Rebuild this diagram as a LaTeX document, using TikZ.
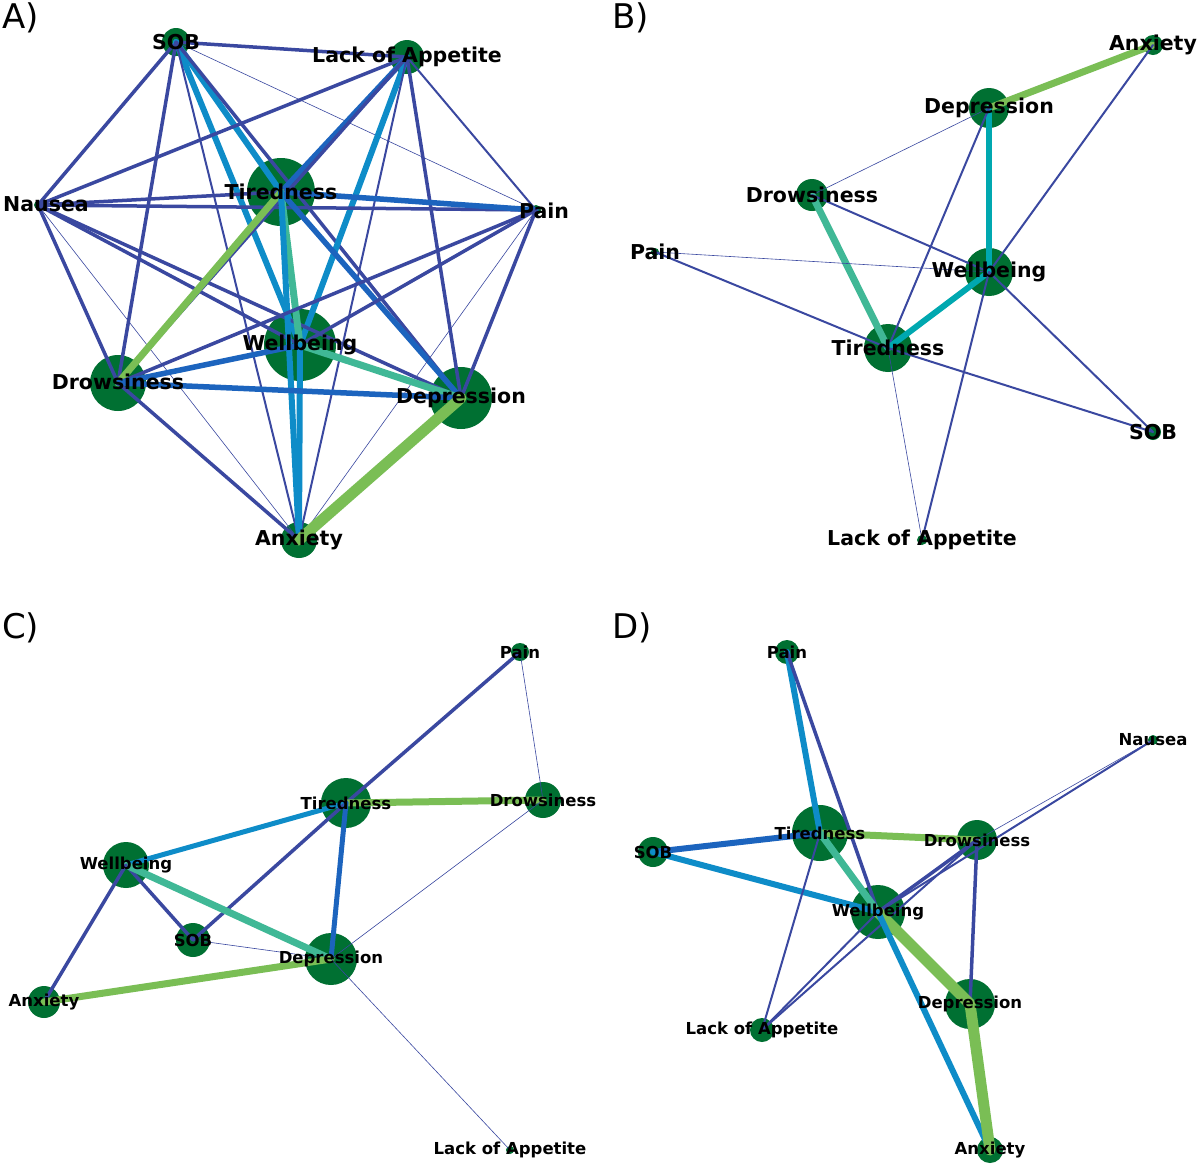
\documentclass[tikz,border=0pt]{standalone}
\usepackage{fontspec}
\setmainfont{DejaVu Sans}
\begin{document}
\begin{tikzpicture}[x=1pt,y=-1pt,line cap=round]
\definecolor{dkb}{RGB}{58,72,160}
\definecolor{blu}{RGB}{28,100,190}
\definecolor{lbl}{RGB}{14,140,200}
\definecolor{tea}{RGB}{64,184,150}
\definecolor{cya}{RGB}{0,168,176}
\definecolor{grn}{RGB}{122,190,85}
\definecolor{ndg}{RGB}{0,112,50}
\tikzset{
 t0/.style={draw=dkb,line width=0.6},
 t1/.style={draw=dkb,line width=2},
 t2/.style={draw=dkb,line width=3.5},
 bl/.style={draw=blu,line width=5.5},
 lb/.style={draw=lbl,line width=6},
 te/.style={draw=tea,line width=7},
 cy/.style={draw=cya,line width=6},
 gr/.style={draw=grn,line width=7},
 gg/.style={draw=grn,line width=11},
 lab/.style={font=\bfseries\fontsize{20.5}{20.5}\selectfont,text=black,inner sep=0},
 labs/.style={font=\bfseries\fontsize{16.5}{16.5}\selectfont,text=black,inner sep=0},
 pan/.style={font=\fontsize{34}{34}\selectfont,anchor=north west,inner sep=0}
}
\useasboundingbox (0,0) rectangle (1200,1171);
\fill[white] (0,0) rectangle (1200,1171);
\node[pan] (pA) at (2,2) {A)};
\node[pan] (pB) at (612,2) {B)};
\node[pan] (pC) at (2,612) {C)};
\node[pan] (pD) at (612,612) {D)};
% ---------- A
\foreach \n/\x/\y/\r in {Asob/176/42/14,Alac/407/57/17,Anau/38/205/4,Atir/281/192/34,Apai/536/210/5,Awel/300/345/36,Adro/118/383/28,Adep/461/398/31,Aanx/299/540/18}{
 \coordinate (\n) at (\x,\y); \fill[ndg] (\n) circle (\r);}
\draw[t2] (Asob)--(Alac); \draw[t2] (Asob)--(Anau); \draw[t0] (Asob)--(Apai);
\draw[lb] (Asob)--(Atir); \draw[lb] (Asob)--(Awel); \draw[t2] (Asob)--(Adro);
\draw[t2] (Asob)--(Adep); \draw[t1] (Asob)--(Aanx);
\draw[t2] (Alac)--(Anau); \draw[bl] (Alac)--(Atir); \draw[lb] (Alac)--(Awel);
\draw[t2] (Alac)--(Adro); \draw[t1] (Alac)--(Apai); \draw[t2] (Alac)--(Adep); \draw[t1] (Alac)--(Aanx);
\draw[t2] (Anau)--(Atir); \draw[t2] (Anau)--(Apai); \draw[t2] (Anau)--(Adro);
\draw[t2] (Anau)--(Awel); \draw[t2] (Anau)--(Adep); \draw[t0] (Anau)--(Aanx);
\draw[bl] (Atir)--(Apai); \draw[te] (Atir)--(Awel); \draw[gr] (Atir)--(Adro);
\draw[bl] (Atir)--(Adep); \draw[lb] (Atir)--(Aanx);
\draw[t2] (Apai)--(Awel); \draw[t2] (Apai)--(Adro); \draw[t2] (Apai)--(Adep); \draw[t0] (Apai)--(Aanx);
\draw[bl] (Awel)--(Adro); \draw[te] (Awel)--(Adep); \draw[lb] (Awel)--(Aanx);
\draw[bl] (Adro)--(Adep); \draw[t2] (Adro)--(Aanx); \draw[gg] (Adep)--(Aanx);
\node[lab] (lAsob) at (Asob) {SOB};
\node[lab] (lAlac) at (Alac) {Lack of Appetite};
\node[lab] (lAnau) at (46,204) {Nausea};
\node[lab] (lAtir) at (Atir) {Tiredness};
\node[lab] (lApai) at (544,211) {Pain};
\node[lab] (lAwel) at (Awel) {Wellbeing};
\node[lab] (lAdro) at (118,382) {Drowsiness};
\node[lab] (lAdep) at (461,398) {Depression};
\node[lab] (lAanx) at (Aanx) {Anxiety};
% ---------- B
\foreach \n/\x/\y/\r in {Banx/1153/45/10,Bdep/989/108/20,Bdro/812/195/16,Bpai/655/252/4,Bwel/989/272/24,Btir/888/348/24,Bsob/1153/432/8,Blac/922/540/5}{
 \coordinate (\n) at (\x,\y); \fill[ndg] (\n) circle (\r);}
\draw[gr] (Banx)--(Bdep); \draw[t1] (Banx)--(Bwel); \draw[cy] (Bdep)--(Bwel);
\draw[t0] (Bdep)--(Bdro); \draw[t1] (Bdep)--(Btir); \draw[te] (Bdro)--(Btir);
\draw[t1] (Bdro)--(Bwel); \draw[t0] (Bpai)--(Bwel); \draw[t1] (Bpai)--(Btir);
\draw[cy] (Bwel)--(Btir); \draw[t1] (Bwel)--(Bsob); \draw[t1] (Bwel)--(Blac);
\draw[t1] (Btir)--(Bsob); \draw[t0] (Btir)--(Blac);
\node[lab] (lBanx) at (Banx) {Anxiety};
\node[lab] (lBdep) at (Bdep) {Depression};
\node[lab] (lBdro) at (Bdro) {Drowsiness};
\node[lab] (lBpai) at (655,252) {Pain};
\node[lab] (lBwel) at (Bwel) {Wellbeing};
\node[lab] (lBtir) at (Btir) {Tiredness};
\node[lab] (lBsob) at (Bsob) {SOB};
\node[lab] (lBlac) at (922,540) {Lack of Appetite};
% ---------- C
\foreach \n/\x/\y/\r in {Cpai/520/652/9,Ctir/346/803/25,Cdro/543/800/18,Cwel/126/865/23,Csob/193/940/17,Cdep/331/959/26,Canx/44/1002/16,Clac/510/1150/4}{
 \coordinate (\n) at (\x,\y); \fill[ndg] (\n) circle (\r);}
\draw[t2] (Cpai)--(Ctir); \draw[t0] (Cpai)--(Cdro); \draw[gr] (Ctir)--(Cdro);
\draw[draw=lbl,line width=5] (Ctir)--(Cwel); \draw[t2] (Ctir)--(Csob); \draw[draw=blu,line width=5] (Ctir)--(Cdep);
\draw[t0] (Cdro)--(Cdep); \draw[t2] (Cwel)--(Csob); \draw[te] (Cwel)--(Cdep);
\draw[t2] (Cwel)--(Canx); \draw[t0] (Csob)--(Cdep); \draw[gr] (Canx)--(Cdep); \draw[t0] (Cdep)--(Clac);
\node[labs] (lCpai) at (Cpai) {Pain};
\node[labs] (lCtir) at (Ctir) {Tiredness};
\node[labs] (lCdro) at (Cdro) {Drowsiness};
\node[labs] (lCwel) at (Cwel) {Wellbeing};
\node[labs] (lCsob) at (Csob) {SOB};
\node[labs] (lCdep) at (Cdep) {Depression};
\node[labs] (lCanx) at (Canx) {Anxiety};
\node[labs] (lClac) at (Clac) {Lack of Appetite};
% ---------- D
\foreach \n/\x/\y/\r in {Dpai/787/652/12,Dnau/1153/740/5,Dtir/820/833/28,Ddro/977/840/20,Dsob/653/852/15,Dwel/878/912/27,Ddep/970/1004/25,Dlac/762/1030/12,Danx/990/1150/13}{
 \coordinate (\n) at (\x,\y); \fill[ndg] (\n) circle (\r);}
\draw[lb] (Dpai)--(Dtir); \draw[t2] (Dpai)--(Dwel); \draw[gr] (Dtir)--(Ddro);
\draw[draw=blu,line width=6] (Dsob)--(Dtir); \draw[lb] (Dsob)--(Dwel); \draw[te] (Dtir)--(Dwel);
\draw[t1] (Dtir)--(Dlac); \draw[t1] (Dwel)--(Dlac); \draw[t1] (Ddro)--(Dlac);
\draw[t2] (Ddro)--(Dwel); \draw[t2] (Ddro)--(Ddep); \draw[t1] (Dnau)--(Dwel); \draw[t0] (Dnau)--(Ddro);
\draw[gg] (Dwel)--(Ddep); \draw[lb] (Dwel)--(Danx); \draw[gg] (Ddep)--(Danx);
\node[labs] (lDpai) at (Dpai) {Pain};
\node[labs] (lDnau) at (Dnau) {Nausea};
\node[labs] (lDtir) at (Dtir) {Tiredness};
\node[labs] (lDdro) at (Ddro) {Drowsiness};
\node[labs] (lDsob) at (Dsob) {SOB};
\node[labs] (lDwel) at (Dwel) {Wellbeing};
\node[labs] (lDdep) at (Ddep) {Depression};
\node[labs] (lDlac) at (Dlac) {Lack of Appetite};
\node[labs] (lDanx) at (Danx) {Anxiety};
\end{tikzpicture}
\end{document}
